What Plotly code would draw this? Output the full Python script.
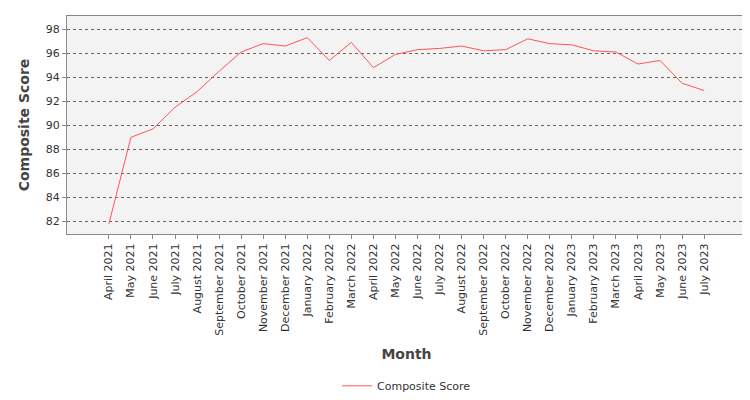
import plotly.graph_objects as go

months = ["April 2021","May 2021","June 2021","July 2021","August 2021","September 2021","October 2021","November 2021","December 2021",
          "January 2022","February 2022","March 2022","April 2022","May 2022","June 2022","July 2022","August 2022","September 2022",
          "October 2022","November 2022","December 2022","January 2023","February 2023","March 2023","April 2023","May 2023","June 2023","July 2023"]
scores = [81.8,89.0,89.7,91.5,92.8,94.5,96.1,96.8,96.6,97.3,95.4,96.9,94.8,95.9,96.3,96.4,96.6,96.2,96.3,97.2,96.8,96.7,96.2,96.1,95.1,95.4,93.5,92.9]

fig = go.Figure(go.Scatter(x=months, y=scores, mode="lines", name="Composite Score",
                           line=dict(color="#ff5555", width=1), showlegend=True))
fig.update_layout(
    width=750, height=400, margin=dict(l=59, r=12, t=8, b=166),
    paper_bgcolor="white", plot_bgcolor="#f3f3f3",
    font=dict(family="DejaVu Sans", size=11, color="#333"),
    legend=dict(orientation="h", x=0.5, xanchor="center", y=-0.63, yanchor="top", font=dict(size=11)),
)
fig.update_xaxes(type="category", range=[-1.9, 28.9], tickangle=-90, showgrid=False, automargin=False,
                 ticks="outside", ticklen=4, tickcolor="#888", showline=True, linecolor="#888", mirror=True,
                 title=dict(text="<b>Month</b>", font=dict(size=14, color="#444"), standoff=14))
fig.update_yaxes(range=[80.95, 99.1], dtick=2, gridcolor="#666", griddash="dot", gridwidth=1, automargin=False,
                 ticks="outside", ticklen=4, tickcolor="#888", showline=True, linecolor="#888", mirror=True,
                 zeroline=False,
                 title=dict(text="<b>Composite Score</b>", font=dict(size=14, color="#444"), standoff=12))
fig.write_html("out.html")
